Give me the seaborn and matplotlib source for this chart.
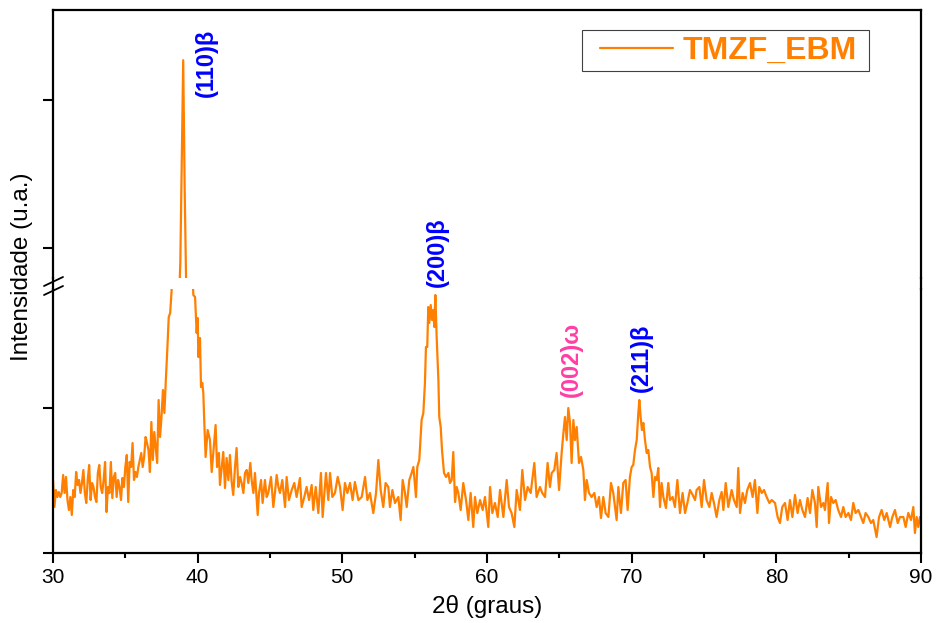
import numpy as np
import pandas as pd
import matplotlib
matplotlib.use("Agg")
import matplotlib.pyplot as plt
import seaborn as sns
from matplotlib.lines import Line2D
from matplotlib.patches import Rectangle

# ---------------- data (arbitrary units) ----------------
theta_30_38 = [30.0, 30.1, 30.2, 30.3, 30.4, 30.5, 30.6, 30.7, 30.8, 30.9,
               31.0, 31.1, 31.2, 31.3, 31.4, 31.5, 31.6, 31.7, 31.8, 31.9,
               32.0, 32.1, 32.2, 32.3, 32.4, 32.5, 32.6, 32.7, 32.8, 32.9,
               33.0, 33.1, 33.2, 33.3, 33.4, 33.5, 33.6, 33.7, 33.8, 33.9,
               34.0, 34.1, 34.2, 34.3, 34.4, 34.5, 34.6, 34.7, 34.8, 34.9,
               35.0, 35.1, 35.2, 35.3, 35.4, 35.5, 35.6, 35.7, 35.8, 35.9,
               36.0, 36.1, 36.2, 36.3, 36.4, 36.5, 36.6, 36.7, 36.8, 36.9,
               37.0, 37.1, 37.2, 37.3, 37.4, 37.5, 37.6, 37.7, 37.8, 37.9,
               38.0, 38.1, 38.2]
counts_30_38 = [73, 46, 63, 56, 61, 56, 60, 78, 60, 76,
                53, 43, 56, 38, 63, 56, 81, 68, 73, 60,
                70, 83, 60, 50, 73, 88, 53, 70, 66, 56,
                51, 80, 88, 66, 60, 73, 91, 41, 66, 60,
                91, 55, 76, 80, 56, 73, 66, 53, 75, 66,
                86, 98, 51, 91, 86, 110, 73, 81, 76, 86,
                93, 100, 86, 96, 116, 110, 103, 81, 131, 93,
                121, 106, 90, 153, 116, 136, 163, 140, 173, 203,
                236, 240, 263]

theta_peak110 = [38.3, 38.4, 38.5, 38.6, 38.7, 38.8, 38.9, 39.0, 39.1, 39.2,
                 39.3, 39.4, 39.5, 39.6, 39.7]
counts_peak110 = [330, 390, 440, 480, 525, 565, 665, 764, 640, 548,
                  490, 420, 360, 300, 258]

theta_40_50 = [39.82, 39.93, 40.0, 40.05, 40.16, 40.23, 40.32, 40.39, 40.46, 40.55,
               40.69, 40.85, 40.97, 41.08, 41.24, 41.34, 41.47, 41.54, 41.77, 41.89,
               42.0, 42.12, 42.23, 42.35, 42.46, 42.58, 42.69, 42.81, 42.93, 43.04,
               43.16, 43.27, 43.39, 43.50, 43.64, 43.73, 43.85, 43.96, 44.08, 44.15,
               44.24, 44.38, 44.49, 44.65, 44.77, 44.88, 45.07, 45.23, 45.34, 45.46,
               45.58, 45.69, 45.85, 46.04, 46.15, 46.31, 46.50, 46.68, 46.84, 47.07,
               47.19, 47.37, 47.53, 47.70, 47.88, 47.99, 48.16, 48.34, 48.52, 48.64,
               48.76, 48.87, 49.03, 49.15, 49.31, 49.49, 49.68]
counts_40_50 = [256, 220, 235, 196, 215, 166, 170, 160, 130, 96,
                123, 113, 81, 100, 128, 86, 100, 68, 101, 65,
                95, 73, 98, 71, 58, 86, 105, 66, 76, 70,
                60, 80, 83, 70, 90, 73, 60, 80, 53, 38,
                60, 73, 50, 73, 56, 60, 76, 46, 60, 78,
                66, 60, 73, 46, 76, 53, 63, 70, 56, 75,
                46, 56, 66, 53, 68, 43, 66, 40, 80, 36,
                60, 80, 53, 80, 56, 60, 76]

theta_50_60 = [49.84, 50.02, 50.18, 50.35, 50.53, 50.71, 50.87, 51.11, 51.34, 51.57,
               51.73, 51.91, 52.14, 52.33, 52.49, 52.65, 52.83, 52.99, 53.18, 53.29,
               53.46, 53.64, 53.87, 54.03, 54.17, 54.33, 54.45, 54.63, 54.79, 54.91,
               55.09, 55.18, 55.32, 55.41, 55.48, 55.60, 55.71, 55.78, 55.87, 55.94,
               56.01, 56.11, 56.20, 56.29, 56.36, 56.43, 56.52, 56.64, 56.70, 56.80,
               56.89, 57.03, 57.17, 57.33, 57.44, 57.56, 57.67, 57.79, 57.90, 58.02,
               58.18, 58.36, 58.55, 58.71, 58.87, 59.05, 59.17, 59.33, 59.52, 59.70]
counts_50_60 = [66, 43, 70, 60, 70, 53, 71, 53, 56, 76,
                53, 60, 40, 60, 93, 63, 46, 70, 66, 46,
                63, 50, 56, 33, 73, 60, 46, 73, 80, 86,
                56, 86, 93, 116, 133, 140, 170, 206, 206, 246,
                230, 248, 233, 243, 226, 258, 216, 173, 136, 126,
                103, 80, 76, 80, 70, 73, 101, 51, 66, 60,
                43, 70, 53, 33, 60, 26, 56, 40, 53, 43]

theta_60_70 = [59.86, 60.09, 60.21, 60.37, 60.55, 60.74, 60.90, 61.13, 61.36, 61.52,
               61.70, 61.89, 62.05, 62.28, 62.44, 62.63, 62.81, 63.02, 63.27, 63.43,
               63.66, 63.82, 64.01, 64.19, 64.35, 64.47, 64.65, 64.81, 64.98, 65.16,
               65.28, 65.39, 65.51, 65.62, 65.74, 65.85, 65.97, 66.08, 66.20, 66.36,
               66.50, 66.66, 66.77, 66.89, 67.05, 67.23, 67.42, 67.58, 67.74, 67.88,
               68.04, 68.20, 68.39, 68.57, 68.73, 68.96, 69.08, 69.26, 69.42, 69.58,
               69.72]
counts_60_70 = [56, 26, 66, 40, 50, 36, 63, 36, 73, 46,
                40, 26, 63, 43, 83, 53, 66, 60, 90, 56,
                66, 60, 56, 90, 66, 80, 83, 100, 63, 100,
                120, 136, 113, 145, 130, 90, 133, 113, 126, 90,
                96, 83, 53, 73, 60, 56, 60, 46, 56, 35,
                56, 40, 36, 70, 60, 33, 66, 40, 70, 73,
                43]

theta_70_80 = [69.88, 70.00, 70.11, 70.23, 70.35, 70.46, 70.53, 70.62, 70.71, 70.81,
               70.92, 71.04, 71.15, 71.27, 71.38, 71.50, 71.61, 71.73, 71.84, 71.96,
               72.07, 72.19, 72.37, 72.53, 72.65, 72.83, 72.99, 73.16, 73.34, 73.52,
               73.69, 73.85, 74.03, 74.22, 74.38, 74.49, 74.68, 74.84, 75.00, 75.18,
               75.37, 75.53, 75.69, 75.87, 76.06, 76.22, 76.34, 76.50, 76.68, 76.91,
               77.07, 77.26, 77.37, 77.49, 77.67, 77.83, 77.99, 78.18, 78.36, 78.52,
               78.69, 78.82, 78.99, 79.15, 79.33, 79.52, 79.68]
counts_70_80 = [76, 86, 88, 103, 113, 140, 153, 136, 123, 130,
                113, 100, 103, 86, 80, 56, 76, 73, 85, 46,
                70, 56, 45, 70, 53, 56, 46, 73, 40, 60,
                40, 50, 63, 58, 53, 63, 66, 46, 73, 53,
                46, 60, 50, 36, 53, 61, 43, 70, 46, 63,
                53, 46, 85, 40, 60, 50, 63, 70, 56, 73,
                40, 66, 60, 63, 56, 50, 53]

theta_80_90 = [79.91, 80.09, 80.25, 80.41, 80.60, 80.78, 80.94, 81.11, 81.29, 81.47,
               81.63, 81.80, 81.98, 82.16, 82.33, 82.49, 82.67, 82.79, 82.90, 83.09,
               83.25, 83.36, 83.55, 83.64, 83.78, 83.94, 84.10, 84.28, 84.47, 84.63,
               84.79, 84.98, 85.16, 85.32, 85.48, 85.67, 85.85, 86.01, 86.17, 86.36,
               86.54, 86.70, 86.93, 87.10, 87.28, 87.46, 87.63, 87.86, 88.02, 88.20,
               88.39, 88.55, 88.78, 88.94, 89.12, 89.31, 89.47, 89.58, 89.70, 89.81,
               89.93, 90.0]
counts_80_90 = [50, 36, 30, 46, 50, 33, 53, 36, 58, 40,
                53, 43, 36, 55, 40, 63, 50, 26, 66, 46,
                50, 43, 70, 30, 56, 50, 53, 43, 36, 46,
                36, 40, 33, 50, 40, 43, 36, 30, 40, 36,
                30, 33, 16, 36, 43, 33, 40, 26, 36, 43,
                30, 36, 36, 26, 40, 33, 46, 20, 36, 26,
                36, 30]

sample_label = "TMZF_EBM"
x_label = "2θ (graus)"
y_label = "Intensidade (u.a.)"
x_ticks = [30, 40, 50, 60, 70, 80, 90]
x_minor_ticks = [35, 45, 55, 65, 75, 85]
low_ticks = [0, 145]
high_ticks = [580, 725]
low_ylim = (0, 264)
high_ylim = (550.6, 813.2)

peak_labels = ["(110)β", "(200)β", "(002)ω", "(211)β"]
peak_theta = [40.58, 56.54, 65.81, 70.65]
peak_text_y = [728, 266, 156, 161]
peak_colors = ["#0000FF", "#0000FF", "#FF3EA5", "#0000FF"]
peak_on_upper = [True, False, False, False]

# ---------------- assemble ----------------
thetas = (theta_30_38 + theta_peak110 + theta_40_50 + theta_50_60
          + theta_60_70 + theta_70_80 + theta_80_90)
counts = (counts_30_38 + counts_peak110 + counts_40_50 + counts_50_60
          + counts_60_70 + counts_70_80 + counts_80_90)
assert len(thetas) == len(counts)
df = pd.DataFrame({"two_theta": thetas, "intensity": counts})

sns.set_style("ticks")
plt.rcParams["font.family"] = ["Liberation Sans", "DejaVu Sans"]
plt.rcParams.update({"text.color": "black", "axes.labelcolor": "black",
                     "xtick.color": "black", "ytick.color": "black",
                     "axes.edgecolor": "black"})

W, H = 937, 623
fig = plt.figure(figsize=(W / 100, H / 100), dpi=100)


def fx(px):
    return px / W


def fy(py):
    return 1 - py / H


L, R = 53, 921
ax_hi = fig.add_axes([fx(L), fy(278), fx(R) - fx(L), fy(10) - fy(278)])
ax_lo = fig.add_axes([fx(L), fy(553), fx(R) - fx(L), fy(289) - fy(553)])

color = "#FF8000"
for ax in (ax_hi, ax_lo):
    sns.lineplot(data=df, x="two_theta", y="intensity", ax=ax, color=color,
                 lw=1.6, estimator=None, sort=False, legend=False)
    ax.set_xlim(30, 90)
    ax.set_xlabel("")
    ax.set_ylabel("")
    for s in ax.spines.values():
        s.set_linewidth(1.6)
        s.set_color("black")
    ax.tick_params(axis="y", direction="out", length=7, width=1.5,
                   labelleft=False, left=True, color="black")

ax_lo.set_ylim(*low_ylim)
ax_hi.set_ylim(*high_ylim)
ax_lo.set_yticks(low_ticks)
ax_hi.set_yticks(high_ticks)

ax_hi.spines["bottom"].set_visible(False)
ax_lo.spines["top"].set_visible(False)
ax_hi.tick_params(axis="x", bottom=False, labelbottom=False, top=False)

ax_lo.set_xticks(x_ticks)
ax_lo.set_xticks(x_minor_ticks, minor=True)
ax_lo.tick_params(axis="x", which="major", direction="out", length=7,
                  width=1.5, labelsize=15, pad=4, color="black",
                  labelcolor="black")
ax_lo.tick_params(axis="x", which="minor", direction="out", length=3.6,
                  width=1.5, color="black")

# bridge the frame across the break and draw the break marks
for xpx in (L, R):
    fig.add_artist(Line2D([fx(xpx), fx(xpx)], [fy(277), fy(290)],
                          color="black", lw=1.6))
fig.add_artist(Line2D([fx(44), fx(63)], [fy(286), fy(277)], color="black", lw=1.3))
fig.add_artist(Line2D([fx(44), fx(63)], [fy(295), fy(286)], color="black", lw=1.3))

# peak labels
for lab, th, yv, c, up in zip(peak_labels, peak_theta, peak_text_y,
                              peak_colors, peak_on_upper):
    ax = ax_hi if up else ax_lo
    ax.text(th, yv, lab, rotation=90, ha="center", va="bottom", color=c,
            fontsize=17, fontweight="bold", clip_on=False)

# legend
handle = Line2D([], [], color=color, lw=1.6)
leg = ax_hi.legend([handle], [sample_label], loc="center left",
                   bbox_to_anchor=(fx(600), fy(51)), bbox_transform=fig.transFigure,
                   frameon=False, borderpad=0, borderaxespad=0,
                   handlelength=2.29, handletextpad=0.31,
                   prop={"weight": "bold", "size": 23})
for t in leg.get_texts():
    t.set_color(color)
fig.add_artist(Rectangle((fx(582), fy(71)), fx(869) - fx(582), fy(30) - fy(71),
                         transform=fig.transFigure, fill=False,
                         edgecolor="#404040", lw=0.8))

# axis labels
fig.text(fx(22), fy(267), y_label, rotation=90, ha="center", va="center",
         fontsize=17.5, color="black")
fig.text(fx(487), fy(607), x_label, ha="center", va="center", fontsize=17.5,
         color="black")

fig.savefig("out.png", dpi=100)
